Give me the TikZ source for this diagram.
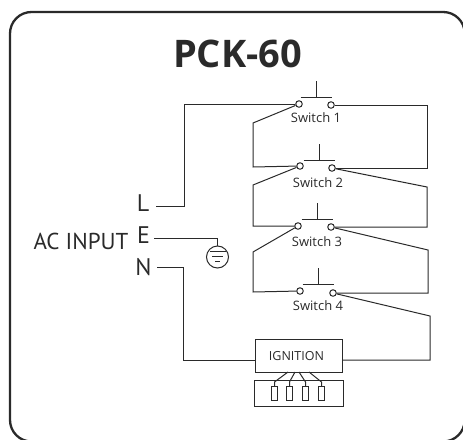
\documentclass[tikz,border=0pt]{standalone}
\usepackage{fontspec}
\setmainfont{Open Sans}
\newfontfamily\labelfont{PT Sans}
\definecolor{ink}{HTML}{2A2A2A}
\tikzset{
  wire/.style={draw=ink,line width=1pt,line join=miter},
  frame/.style={draw=ink,line width=2.3pt,rounded corners=21.5pt},
  term/.style={circle,draw=ink,line width=1pt,fill=white,inner sep=0pt,minimum size=6.5pt},
  swlabel/.style={font=\fontsize{13}{15}\selectfont,text=ink,inner sep=0pt,anchor=center},
  bigl/.style={font=\labelfont\fontsize{24}{26}\selectfont,text=ink,inner sep=0pt,anchor=center},
  aclabel/.style={font=\labelfont\fontsize{23}{26}\selectfont,text=ink,inner sep=0pt,anchor=center},
  box/.style={draw=ink,line width=1pt,fill=white,inner sep=0pt},
  plug/.style={draw=ink,line width=1pt,fill=white,minimum width=6.5pt,minimum height=14.5pt,inner sep=0pt},
}
\begin{document}
\begin{tikzpicture}[x=1pt,y=-1pt]
\useasboundingbox (0,0) rectangle (463,439);
\begin{scope}
\clip (0,0) rectangle (463,439);
\path[frame] (10,12) rectangle (464.7,441.5);
\end{scope}
\node[inner sep=0pt,text=ink] (title) at (237.5,54) {\fontsize{38}{40}\selectfont\bfseries PCK-60};
% terminals
\node[term] (a1) at (299,104) {}; \node[term] (b1) at (331,105) {};
\node[term] (a2) at (300,166) {}; \node[term] (b2) at (332,168) {};
\node[term] (a3) at (298,226) {}; \node[term] (b3) at (331,227) {};
\node[term] (a4) at (300,291) {}; \node[term] (b4) at (333,293) {};
\node[swlabel] (s1) at (316,118) {Switch 1};
\node[swlabel] (s2) at (318,183) {Switch 2};
\node[swlabel] (s3) at (317,242) {Switch 3};
\node[swlabel] (s4) at (318,306) {Switch 4};
% push buttons
\foreach \i/\x/\y/\t in {1/316/97/81,2/319/160/144,3/317/219/203,4/318/284/268}{
  \coordinate (pl\i) at (\x-15.5,\y);
  \coordinate (pr\i) at (\x+15.5,\y);
  \coordinate (pc\i) at (\x,\y);
  \coordinate (pt\i) at (\x,\t);
  \draw[wire] (pl\i) -- (pr\i);
  \draw[wire] (pc\i) -- (pt\i);
}
% labels
\node[bigl] (L) at (143,203) {L};
\node[bigl] (E) at (143.5,235) {E};
\node[bigl] (N) at (143.5,267) {N};
\node[aclabel] (ac) at (81,241) {AC INPUT};
% ground
\node[circle,draw=ink,line width=1pt,minimum size=22pt,inner sep=0pt] (gnd) at (217.5,257) {};
\coordinate (e0) at (154,238);
\coordinate (e1) at (217.5,238);
\draw[wire] (e0) -- (e1) -- (gnd.north);
\coordinate (g1l) at (209.5,251.5); \coordinate (g1r) at (225.5,251.5);
\coordinate (g2l) at (212,256.5); \coordinate (g2r) at (223,256.5);
\coordinate (g3l) at (215,261); \coordinate (g3r) at (220,261);
\draw[wire] (g1l) -- (g1r) (g2l) -- (g2r) (g3l) -- (g3r);
% wires
\coordinate (l0) at (156,206);
\draw[wire] (l0) -- (184,206) -- (184,104) -- (a1);
\draw[wire] (a1) -- (253,123) -- (253,167) -- (a2);
\draw[wire] (b1) -- (427,105) -- (427,168) -- (b2);
\draw[wire] (a2) -- (253,185) -- (253,226) -- (a3);
\draw[wire] (b2) -- (427,187) -- (427,227) -- (b3);
\draw[wire] (a3) -- (253,252) -- (253,292) -- (a4);
\draw[wire] (b3) -- (428,250) -- (428,293) -- (b4);
\node[box,minimum width=87pt,minimum height=33pt] (ign) at (298.5,355.5) {};
\node[text=ink,inner sep=0pt,font=\fontsize{12.5}{14}\selectfont] (ignt) at (296.5,356) {IGNITION};
\coordinate (ie) at (ign.east|-0,360);
\coordinate (iw) at (ign.west|-0,360);
\draw[wire] (b4) -- (430,316) -- (430,360) -- (ie);
\coordinate (n0) at (157,267);
\draw[wire] (n0) -- (183,267) -- (183,360) -- (iw);
% plug block
\node[box,minimum width=89pt,minimum height=26pt] (blk) at (298.5,393) {};
\node[plug] (p1) at (274.5,393.5) {};
\node[plug] (p2) at (289.5,393.5) {};
\node[plug] (p3) at (305.5,393.5) {};
\node[plug] (p4) at (321.5,393.5) {};
\coordinate (o1) at (288,372); \coordinate (o2) at (295,372); \coordinate (o3) at (299,372); \coordinate (o4) at (309,372);
\draw[wire] (o1) -- (274.5,382) -- (p1.north);
\draw[wire] (o2) -- (289.5,382) -- (p2.north);
\draw[wire] (o3) -- (305.5,382) -- (p3.north);
\draw[wire] (o4) -- (321.5,382) -- (p4.north);
\end{tikzpicture}
\end{document}
